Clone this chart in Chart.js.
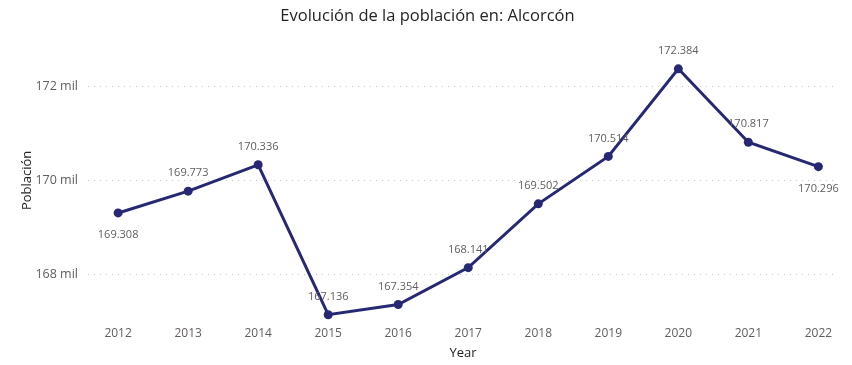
<!DOCTYPE html>
<html>
<head>
<meta charset="utf-8">
<script src="https://cdn.jsdelivr.net/npm/chart.js@4.4.0/dist/chart.umd.min.js"></script>
<style>
  html, body { margin: 0; padding: 0; background: #fff; }
  #wrap { width: 852px; height: 365px; }
</style>
</head>
<body>
<div id="wrap"><canvas id="popChart"></canvas></div>
<script>
// Datos de población
var years = [2012, 2013, 2014, 2015, 2016, 2017, 2018, 2019, 2020, 2021, 2022];
var poblacion = [169308, 169773, 170336, 167136, 167354, 168141, 169502, 170514, 172384, 170817, 170296];
var yTicks = [168000, 170000, 172000];

var lineColor = '#262873';
var fontFam = '"Open Sans", "Noto Sans", sans-serif';

// etiquetas debajo del punto (el resto va encima)
var labelsBelow = [0, 10];

function formatMiles(v) {
    return v.toString().replace(/\B(?=(\d{3})+(?!\d))/g, '.');
}

var dataLabels = {
    id: 'dataLabels',
    afterDatasetsDraw: function (chart) {
        var ctx = chart.ctx;
        var meta = chart.getDatasetMeta(0);
        ctx.save();
        ctx.font = '11px ' + fontFam;
        ctx.fillStyle = '#605E5C';
        ctx.textAlign = 'center';
        ctx.textBaseline = 'middle';
        meta.data.forEach(function (pt, i) {
            var dy = labelsBelow.indexOf(i) >= 0 ? 22 : -18;
            ctx.fillText(formatMiles(poblacion[i]), pt.x, pt.y + dy);
        });
        ctx.restore();
    }
};

var ctx = document.getElementById('popChart').getContext('2d');
var popChart = new Chart(ctx, {
    type: 'line',
    data: {
        datasets: [{
            label: 'Población',
            data: years.map(function (y, i) { return { x: y, y: poblacion[i] }; }),
            borderColor: lineColor,
            backgroundColor: lineColor,
            borderWidth: 3,
            pointRadius: 4.5,
            pointBackgroundColor: lineColor,
            pointBorderWidth: 0,
            tension: 0,
            clip: false
        }]
    },
    options: {
        responsive: true,
        maintainAspectRatio: false,
        animation: false,
        layout: { padding: { left: 17, right: 14, top: 0, bottom: 0 } },
        plugins: {
            legend: { display: false },
            tooltip: { enabled: false },
            title: {
                display: true,
                text: 'Evolución de la población en: Alcorcón',
                color: '#252423',
                font: { family: fontFam, size: 16.5, weight: 'normal' },
                padding: { top: 6, bottom: 20 }
            }
        },
        scales: {
            x: {
                type: 'linear',
                min: 2011.57,
                max: 2022.28,
                afterBuildTicks: function (scale) {
                    scale.ticks = years.map(function (y) { return { value: y }; });
                },
                ticks: {
                    color: '#605E5C',
                    font: { family: fontFam, size: 12 },
                    maxRotation: 0,
                    callback: function (v) { return String(v); }
                },
                grid: { display: false },
                border: { display: false },
                title: {
                    display: true,
                    text: 'Year',
                    color: '#252423',
                    font: { family: fontFam, size: 13 },
                    padding: { top: 2 }
                }
            },
            y: {
                min: 167130,
                max: 172875,
                afterBuildTicks: function (scale) {
                    scale.ticks = yTicks.map(function (v) { return { value: v }; });
                },
                afterFit: function (scale) {
                    scale.width = 71;
                },
                ticks: {
                    color: '#605E5C',
                    font: { family: fontFam, size: 12.5 },
                    padding: 10,
                    callback: function (v) { return (v / 1000) + ' mil'; }
                },
                grid: {
                    color: '#C8C6C4',
                    lineWidth: 1,
                    drawTicks: false
                },
                border: { display: false, dash: [1, 5] },
                title: {
                    display: true,
                    text: 'Población',
                    color: '#252423',
                    font: { family: fontFam, size: 13 },
                    padding: { top: 2, bottom: 0 }
                }
            }
        }
    },
    plugins: [dataLabels]
});
</script>
</body>
</html>
